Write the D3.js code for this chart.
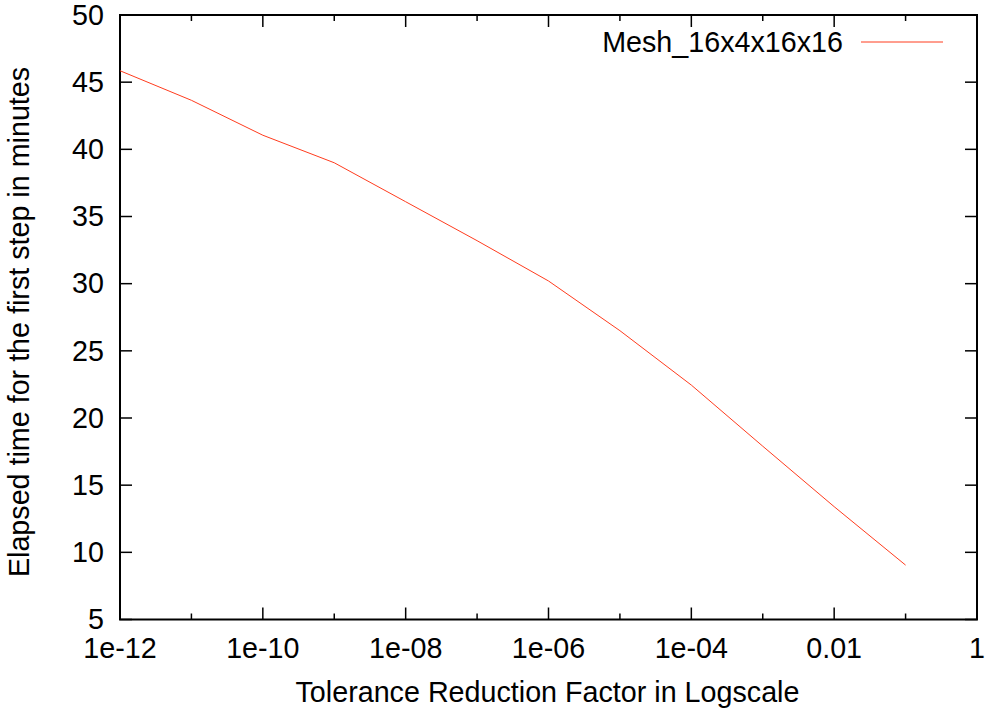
<!DOCTYPE html>
<html>
<head>
<meta charset="utf-8">
<script src="https://cdn.jsdelivr.net/npm/d3@7"></script>
<style>
  body { margin: 0; background: #fff; }
  svg { display: block; }
  text { font-family: "Liberation Sans", Arial, Helvetica, sans-serif; fill: #000; }
</style>
</head>
<body>
<svg id="chart" width="999" height="713"></svg>
<script>
// ---- data ----
const tolerance = [1e-12, 1e-11, 1e-10, 1e-9, 1e-8, 1e-7, 1e-6, 1e-5, 1e-4, 1e-3, 1e-2, 1e-1];
const elapsedMinutes = [45.85, 43.65, 41.05, 39.0, 36.1, 33.2, 30.2, 26.5, 22.45, 17.9, 13.4, 9.05];
const seriesName = "Mesh_16x4x16x16";
const xTickValues = [1e-12, 1e-10, 1e-8, 1e-6, 1e-4, 1e-2, 1];
const xTickLabels = ["1e-12", "1e-10", "1e-08", "1e-06", "1e-04", "0.01", "1"];
const xMinorTicks = [1e-11, 1e-9, 1e-7, 1e-5, 1e-3, 1e-1];
const yTickValues = [5, 10, 15, 20, 25, 30, 35, 40, 45, 50];
const xTitle = "Tolerance Reduction Factor in Logscale";
const yTitle = "Elapsed time for the first step in minutes";

// ---- layout ----
const L = 120, R = 977, T = 15, B = 619.5;
const svg = d3.select("#chart");
const x = d3.scaleLog().domain([1e-12, 1]).range([L, R]);
const y = d3.scaleLinear().domain([5, 50]).range([B, T]);
const fs = 28.7;
const lineColor = "#ff3c1e";

// ticks (mirrored on all sides)
const tickG = svg.append("g").attr("stroke", "#000").attr("stroke-width", 1.5);
const major = 12, minor = 6;
xTickValues.forEach(v => {
  tickG.append("line").attr("x1", x(v)).attr("x2", x(v)).attr("y1", B).attr("y2", B - major);
  tickG.append("line").attr("x1", x(v)).attr("x2", x(v)).attr("y1", T).attr("y2", T + major);
});
xMinorTicks.forEach(v => {
  tickG.append("line").attr("x1", x(v)).attr("x2", x(v)).attr("y1", B).attr("y2", B - minor);
  tickG.append("line").attr("x1", x(v)).attr("x2", x(v)).attr("y1", T).attr("y2", T + minor);
});
yTickValues.forEach(v => {
  tickG.append("line").attr("x1", L).attr("x2", L + major).attr("y1", y(v)).attr("y2", y(v));
  tickG.append("line").attr("x1", R).attr("x2", R - major).attr("y1", y(v)).attr("y2", y(v));
});

// tick labels
xTickValues.forEach((v, i) => {
  svg.append("text").attr("x", x(v)).attr("y", 658)
    .attr("text-anchor", "middle").attr("font-size", fs).text(xTickLabels[i]);
});
yTickValues.forEach(v => {
  svg.append("text").attr("x", 104).attr("y", y(v)).attr("dy", "0.34em")
    .attr("text-anchor", "end").attr("font-size", fs).text(v);
});

// frame
svg.append("rect").attr("x", L).attr("y", T).attr("width", R - L).attr("height", B - T)
  .attr("fill", "none").attr("stroke", "#000").attr("stroke-width", 2);

// data line
const line = d3.line().x((d, i) => x(tolerance[i])).y(d => y(d));
svg.append("path").datum(elapsedMinutes).attr("d", line)
  .attr("fill", "none").attr("stroke", lineColor).attr("stroke-width", 1);

// legend
svg.append("text").attr("x", 843).attr("y", 52).attr("text-anchor", "end")
  .attr("font-size", fs).text(seriesName);
svg.append("line").attr("x1", 861).attr("x2", 943).attr("y1", 42).attr("y2", 42)
  .attr("stroke", lineColor).attr("stroke-width", 1);

// axis titles
svg.append("text").attr("x", 547.5).attr("y", 701.5).attr("text-anchor", "middle")
  .attr("font-size", fs).text(xTitle);
svg.append("text").attr("transform", "translate(29," + 322 + ") rotate(-90)")
  .attr("text-anchor", "middle").attr("font-size", fs).text(yTitle);
</script>
</body>
</html>
